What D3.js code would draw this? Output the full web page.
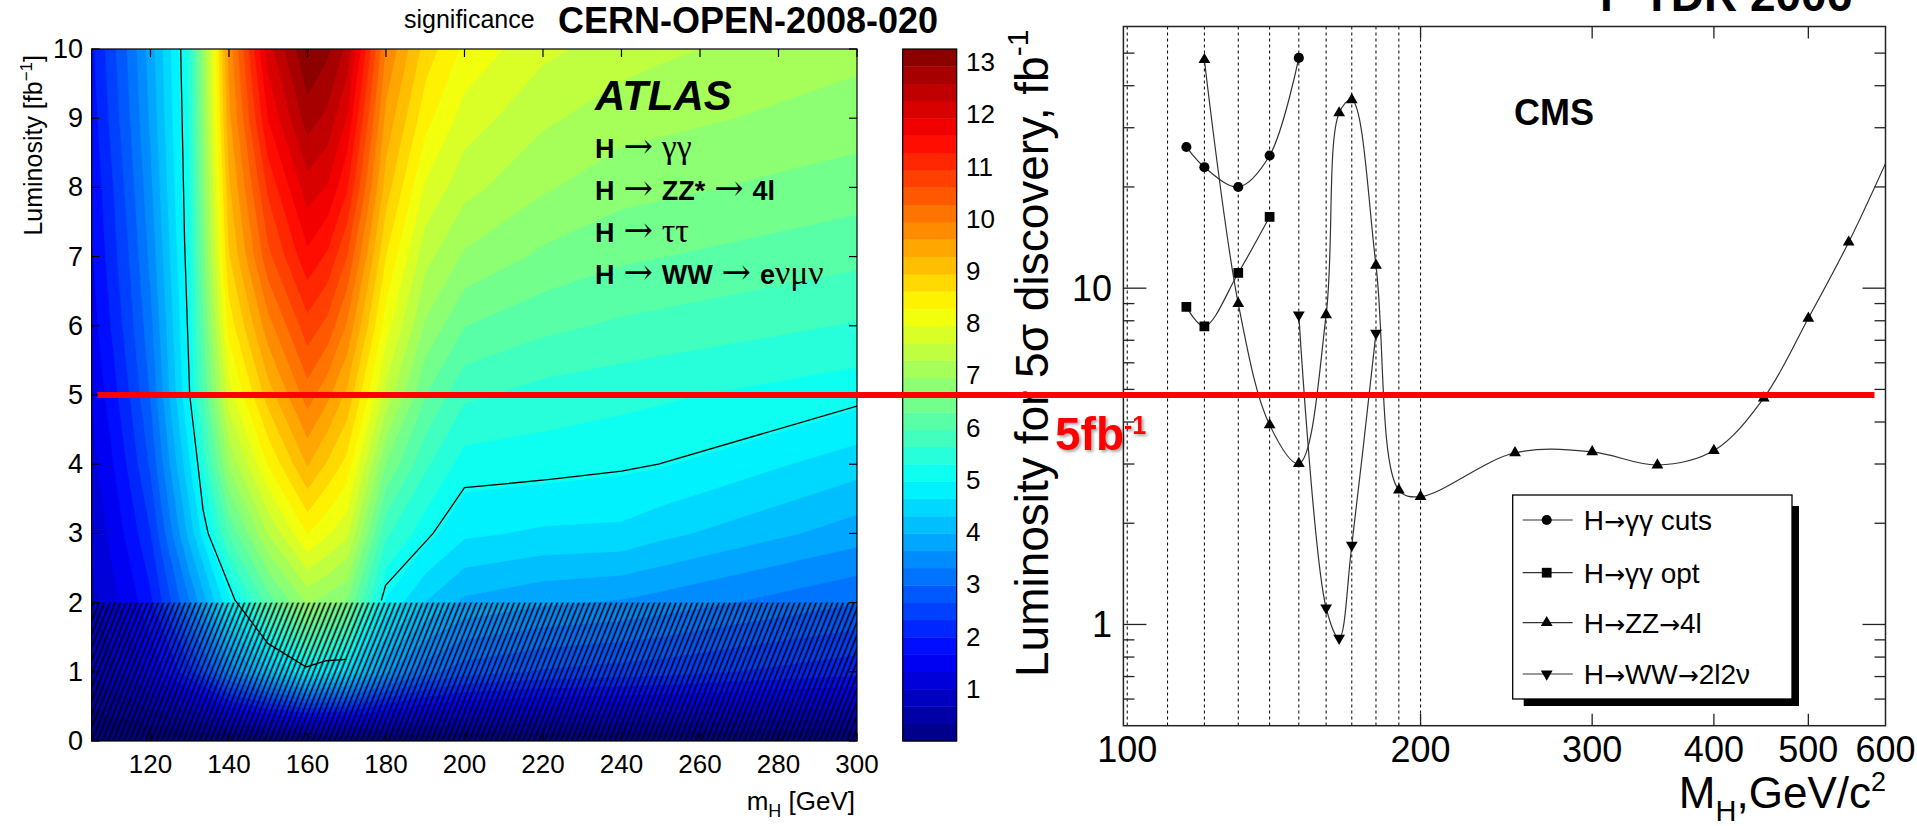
<!DOCTYPE html>
<html>
<head>
<meta charset="utf-8">
<script src="https://cdn.jsdelivr.net/npm/d3@7"></script>
<style>
  body { margin: 0; background: #fff; }
  svg { display: block; font-family: "Liberation Sans", Arial, Helvetica, sans-serif; }
</style>
</head>
<body>
<svg id="chart" width="1917" height="826"></svg>
<script>
// ---------------- data: ATLAS significance map ----------------
var massGrid = [105, 110, 115, 120, 130, 140, 150, 160, 165, 170, 180, 190, 200, 220, 240, 250, 300];
var lumiGrid = [0, 1, 2, 3, 4, 5, 6, 7, 8, 9, 10];
// one row per luminosity, one value per mass (significance)
var sigL0  = [0, 0, 0, 0, 0, 0, 0, 0, 0, 0, 0, 0, 0, 0, 0, 0, 0];
var sigL1  = [0.7, 0.9, 1.1, 1.4, 2.2, 3.4, 4.2, 4.85, 4.7, 4.6, 3.7, 3.1, 2.8, 2.6, 2.5, 2.45, 2.1];
var sigL2  = [0.9, 1.2, 1.5, 1.9, 3.3, 4.85, 6.1, 7.0, 6.8, 6.6, 4.9, 4.3, 3.9, 3.7, 3.6, 3.5, 3.0];
var sigL3  = [1.05, 1.4, 1.8, 2.3, 4.1, 6.0, 7.3, 8.3, 8.0, 7.7, 5.7, 5.1, 4.7, 4.58, 4.55, 4.4, 3.8];
var sigL4  = [1.2, 1.6, 2.1, 2.7, 4.6, 7.0, 8.3, 9.3, 8.9, 8.5, 6.6, 5.7, 5.15, 5.12, 5.05, 5.0, 4.45];
var sigL5  = [1.35, 1.8, 2.35, 3.0, 5.0, 7.8, 9.1, 10.1, 9.7, 9.2, 7.5, 6.3, 5.7, 5.5, 5.4, 5.35, 5.1];
var sigL6  = [1.5, 2.0, 2.55, 3.2, 5.1, 8.4, 9.8, 10.8, 10.5, 9.9, 8.1, 6.9, 6.3, 6.05, 5.9, 5.85, 5.6];
var sigL7  = [1.6, 2.15, 2.7, 3.4, 5.2, 8.9, 10.5, 11.5, 11.2, 10.6, 8.6, 7.4, 6.9, 6.55, 6.35, 6.3, 6.05];
var sigL8  = [1.7, 2.25, 2.85, 3.55, 5.3, 9.2, 11.0, 12.1, 11.9, 11.3, 9.1, 7.9, 7.4, 7.0, 6.75, 6.7, 6.45];
var sigL9  = [1.8, 2.4, 3.0, 3.7, 5.35, 9.5, 11.6, 12.75, 12.5, 11.9, 9.5, 8.4, 7.8, 7.35, 7.1, 7.05, 6.8];
var sigL10 = [1.9, 2.5, 3.1, 3.8, 5.4, 9.7, 12.1, 13.25, 13.0, 12.5, 9.9, 8.8, 8.2, 7.7, 7.45, 7.35, 7.05];
var sigRows = [sigL0, sigL1, sigL2, sigL3, sigL4, sigL5, sigL6, sigL7, sigL8, sigL9, sigL10];

// the 5 sigma contour line as drawn
var sig5MassA = [127.7, 128.7, 130.0, 133.4, 134.7, 141.5, 149.9, 159.7, 164.8, 169.9];
var sig5LumiA = [10.0, 7.2, 5.0, 3.34, 3.0, 2.04, 1.41, 1.07, 1.16, 1.18];
var sig5MassB = [178.8, 179.9, 192.0, 200.0, 221.8, 240.0, 249.4, 300.0];
var sig5LumiB = [2.03, 2.25, 3.0, 3.66, 3.78, 3.9, 4.0, 4.84];

var leftXTicks = [120, 140, 160, 180, 200, 220, 240, 260, 280, 300];
var leftYTicks = [0, 1, 2, 3, 4, 5, 6, 7, 8, 9, 10];
var cbTicks = [1, 2, 3, 4, 5, 6, 7, 8, 9, 10, 11, 12, 13];
var atlasLines = ["H \u2192 \u03b3\u03b3", "H \u2192 ZZ* \u2192 4l", "H \u2192 \u03c4\u03c4", "H \u2192 WW \u2192 e\u03bd\u03bc\u03bd"];

// ---------------- data: CMS 5 sigma discovery luminosity ----------------
var ggCutsMass = [115, 120, 130, 140, 150];
var ggCutsLumi = [26.3, 22.9, 20.0, 24.8, 48.4];
var ggOptMass = [115, 120, 130, 140];
var ggOptLumi = [8.8, 7.7, 11.1, 16.3];
var zzMass = [120, 130, 140, 150, 160, 165, 170, 180, 190, 200, 250, 300, 350, 400, 450, 500, 550, 600];
var zzLumi = [47.8, 9.0, 3.92, 3.01, 8.33, 33.2, 36.3, 11.7, 2.51, 2.40, 3.24, 3.26, 2.98, 3.29, 4.71, 8.14, 13.7, 23.5];
var wwMass = [150, 160, 165, 170, 180];
var wwLumi = [8.33, 1.12, 0.91, 1.72, 7.35];
var seriesNames = ["H\u2192\u03b3\u03b3 cuts", "H\u2192\u03b3\u03b3 opt", "H\u2192ZZ\u21924l", "H\u2192WW\u21922l2\u03bd"];
var dashedMasses = [100, 110, 120, 130, 140, 150, 160, 170, 180, 190, 200];
var rightXTicks = [100, 200, 300, 400, 500, 600];
var rightXInnerTicks = [200, 300, 400, 500];
var rightYMajor = [1, 10];
var rightYMinor = [0.6, 0.7, 0.8, 0.9, 2, 3, 4, 5, 6, 7, 8, 9, 20, 30, 40, 50];
var fiveFb = 5;

var svg = d3.select("#chart");
var defs = svg.append("defs");

// ---------------- scales ----------------
var xL = d3.scaleLinear().domain([105, 300]).range([91.6, 857]);
var yL = d3.scaleLinear().domain([0, 10]).range([741, 49]);
var zMax = 13.25, nLevels = 40, step = zMax / nLevels;
var zColor = d3.scaleLinear()
  .domain([0, 0.125, 0.375, 0.625, 0.875, 1].map(function(t) { return t * zMax; }))
  .range(["#000080", "#0000ff", "#00ffff", "#ffff00", "#ff0000", "#800000"])
  .clamp(true);
var cbY = d3.scaleLinear().domain([0, zMax]).range([741, 49]);
var xR = d3.scaleLog().domain([99.1, 600]).range([1123.4, 1885.5]);
var yR = d3.scaleLog().domain([0.5, 60]).range([725.7, 26.5]);

// ---------------- left: filled contours ----------------
defs.append("clipPath").attr("id", "clipL")
  .append("rect")
  .attr("x", xL.range()[0]).attr("y", yL.range()[1])
  .attr("width", xL.range()[1] - xL.range()[0]).attr("height", yL.range()[0] - yL.range()[1]);

var nx = massGrid.length, ny = lumiGrid.length;
var values = [];
sigRows.forEach(function(row) { row.forEach(function(v) { values.push(v); }); });
var thresholds = d3.range(nLevels).map(function(k) { return k * step; });
var contours = d3.contours().size([nx, ny]).thresholds(thresholds)(values);

var idxMass = d3.scaleLinear().domain(d3.range(nx)).range(massGrid);
var idxLumi = d3.scaleLinear().domain(d3.range(ny)).range(lumiGrid);
var gridPath = d3.geoPath(d3.geoTransform({
  point: function(gx, gy) {
    var i = Math.max(0, Math.min(nx - 1, gx - 0.5));
    var j = Math.max(0, Math.min(ny - 1, gy - 0.5));
    this.stream.point(xL(idxMass(i)), yL(idxLumi(j)));
  }
}));

var mapG = svg.append("g").attr("clip-path", "url(#clipL)");
mapG.selectAll("path.band")
  .data(contours)
  .enter().append("path")
  .attr("class", "band")
  .attr("d", gridPath)
  .attr("fill", function(d) { return zColor(d.value + step / 2); })
  .attr("stroke", function(d) { return zColor(d.value + step / 2); })
  .attr("stroke-width", 0.6);

// hatched low-luminosity region
defs.append("pattern").attr("id", "hatch")
  .attr("patternUnits", "userSpaceOnUse")
  .attr("width", 5).attr("height", 10)
  .attr("patternTransform", "rotate(22)")
  .append("line")
  .attr("x1", 2.5).attr("y1", 0).attr("x2", 2.5).attr("y2", 10)
  .attr("stroke", "#000").attr("stroke-width", 1.7);
mapG.append("rect")
  .attr("x", xL(105)).attr("y", yL(2))
  .attr("width", xL(300) - xL(105)).attr("height", yL(0) - yL(2))
  .attr("fill", "url(#hatch)");

// 5 sigma line
var sigLine = d3.line().x(function(d) { return xL(d[0]); }).y(function(d) { return yL(d[1]); });
[d3.zip(sig5MassA, sig5LumiA), d3.zip(sig5MassB, sig5LumiB)].forEach(function(pts) {
  mapG.append("path").attr("d", sigLine(pts))
    .attr("fill", "none").attr("stroke", "#000").attr("stroke-width", 1.3);
});

// frame + ticks
svg.append("rect")
  .attr("x", xL.range()[0]).attr("y", yL.range()[1])
  .attr("width", xL.range()[1] - xL.range()[0]).attr("height", yL.range()[0] - yL.range()[1])
  .attr("fill", "none").attr("stroke", "#000").attr("stroke-width", 1.2);

var tickG = svg.append("g").attr("stroke", "#000").attr("stroke-width", 1.2);
leftXTicks.forEach(function(m) {
  tickG.append("line").attr("x1", xL(m)).attr("x2", xL(m)).attr("y1", yL(10)).attr("y2", yL(10) + 8);
  tickG.append("line").attr("x1", xL(m)).attr("x2", xL(m)).attr("y1", yL(0)).attr("y2", yL(0) - 8);
});
leftYTicks.forEach(function(l) {
  tickG.append("line").attr("x1", xL(105)).attr("x2", xL(105) + 8).attr("y1", yL(l)).attr("y2", yL(l));
  tickG.append("line").attr("x1", xL(300)).attr("x2", xL(300) - 8).attr("y1", yL(l)).attr("y2", yL(l));
});

svg.append("g").selectAll("text").data(leftXTicks).enter().append("text")
  .attr("x", function(d) { return xL(d); }).attr("y", 773)
  .attr("text-anchor", "middle").attr("font-size", 26).text(function(d) { return d; });
svg.append("g").selectAll("text").data(leftYTicks).enter().append("text")
  .attr("x", 83).attr("y", function(d) { return yL(d) + 9; })
  .attr("text-anchor", "end").attr("font-size", 27).text(function(d) { return d; });

var mhLabel = svg.append("text").attr("x", 855).attr("y", 810)
  .attr("text-anchor", "end").attr("font-size", 26);
mhLabel.append("tspan").text("m");
mhLabel.append("tspan").attr("font-size", 18).attr("dy", 7).text("H");
mhLabel.append("tspan").attr("dy", -7).text(" [GeV]");

var lumiLabel = svg.append("text")
  .attr("transform", "translate(42,55) rotate(-90)")
  .attr("text-anchor", "end").attr("font-size", 25);
lumiLabel.append("tspan").text("Luminosity [fb");
lumiLabel.append("tspan").attr("font-size", 17).attr("dy", -10).text("\u22121");
lumiLabel.append("tspan").attr("dy", 10).text("]");

// colour bar
var cbX0 = 902.7, cbX1 = 956.7;
svg.append("g").selectAll("rect").data(thresholds).enter().append("rect")
  .attr("x", cbX0).attr("width", cbX1 - cbX0)
  .attr("y", function(t) { return cbY(Math.min(t + step, zMax)); })
  .attr("height", function(t) { return cbY(t) - cbY(Math.min(t + step, zMax)) + 0.4; })
  .attr("fill", function(t) { return zColor(t + step / 2); });
svg.append("rect").attr("x", cbX0).attr("y", cbY(zMax))
  .attr("width", cbX1 - cbX0).attr("height", cbY(0) - cbY(zMax))
  .attr("fill", "none").attr("stroke", "#000").attr("stroke-width", 1.2);
cbTicks.forEach(function(v) {
  tickG.append("line").attr("x1", cbX0).attr("x2", cbX0 + 7).attr("y1", cbY(v)).attr("y2", cbY(v));
  tickG.append("line").attr("x1", cbX1).attr("x2", cbX1 - 7).attr("y1", cbY(v)).attr("y2", cbY(v));
});
svg.append("g").selectAll("text").data(cbTicks).enter().append("text")
  .attr("x", 966).attr("y", function(d) { return cbY(d) + 9; })
  .attr("font-size", 26).text(function(d) { return d; });

// titles
svg.append("text").attr("x", 404).attr("y", 28).attr("font-size", 25).text("significance");
svg.append("text").attr("x", 558).attr("y", 33).attr("font-size", 36).attr("font-weight", "bold")
  .text("CERN-OPEN-2008-020");

svg.append("text").attr("x", 595).attr("y", 110).attr("font-size", 42)
  .attr("font-weight", "bold").attr("font-style", "italic").text("ATLAS");

var serif = "'Liberation Serif', 'Times New Roman', serif";
var greekRe = /([\u03b3\u03c4\u03bd\u03bc]+)/;
// arrows and greek letters in a light serif face, latin parts bold
function atlasToken(t, tok, first, size) {
  var started = false;
  tok.split(greekRe).forEach(function(part) {
    if (!part) return;
    var sp = t.append("tspan").attr("dx", (first || started) ? 0 : size * 0.33);
    if (part === "\u2192") {
      sp.attr("font-family", "'DejaVu Serif', serif").attr("font-size", size * 1.3).attr("font-weight", "normal");
    } else if (greekRe.test(part)) {
      sp.attr("font-family", serif).attr("font-size", size * 1.25).attr("font-weight", "normal");
    } else {
      sp.attr("font-weight", "bold").attr("font-size", size);
    }
    sp.text(part);
    started = true;
  });
}
atlasLines.forEach(function(line, i) {
  var t = svg.append("text").attr("x", 595).attr("y", 158 + i * 42);
  line.split(" ").forEach(function(tok, k) { atlasToken(t, tok, k === 0, 27); });
});

// ---------------- right: CMS plot ----------------
defs.append("clipPath").attr("id", "clipR")
  .append("rect")
  .attr("x", xR.range()[0]).attr("y", yR.range()[1])
  .attr("width", xR.range()[1] - xR.range()[0]).attr("height", yR.range()[0] - yR.range()[1]);

var rG = svg.append("g");
rG.selectAll("line.dash").data(dashedMasses).enter().append("line")
  .attr("class", "dash")
  .attr("x1", function(d) { return xR(d); }).attr("x2", function(d) { return xR(d); })
  .attr("y1", yR.range()[1]).attr("y2", yR.range()[0])
  .attr("stroke", "#000").attr("stroke-width", 1).attr("stroke-dasharray", "3,3");

var rTicks = rG.append("g").attr("stroke", "#222").attr("stroke-width", 1.3);
var xr0 = xR.range()[0], xr1 = xR.range()[1], yr0 = yR.range()[0], yr1 = yR.range()[1];
rightYMajor.forEach(function(v) {
  rTicks.append("line").attr("x1", xr0).attr("x2", xr0 + 23).attr("y1", yR(v)).attr("y2", yR(v));
  rTicks.append("line").attr("x1", xr1).attr("x2", xr1 - 23).attr("y1", yR(v)).attr("y2", yR(v));
});
rightYMinor.forEach(function(v) {
  rTicks.append("line").attr("x1", xr0).attr("x2", xr0 + 11).attr("y1", yR(v)).attr("y2", yR(v));
  rTicks.append("line").attr("x1", xr1).attr("x2", xr1 - 11).attr("y1", yR(v)).attr("y2", yR(v));
});
rightXInnerTicks.forEach(function(m) {
  rTicks.append("line").attr("x1", xR(m)).attr("x2", xR(m)).attr("y1", yr1).attr("y2", yr1 + 12);
  rTicks.append("line").attr("x1", xR(m)).attr("x2", xR(m)).attr("y1", yr0).attr("y2", yr0 - 12);
});
rG.append("rect").attr("x", xr0).attr("y", yr1).attr("width", xr1 - xr0).attr("height", yr0 - yr1)
  .attr("fill", "none").attr("stroke", "#222").attr("stroke-width", 1.5);

var curve = d3.line()
  .x(function(d) { return xR(d[0]); }).y(function(d) { return yR(d[1]); })
  .curve(d3.curveCatmullRom.alpha(0.5));
var series = [
  { mass: ggCutsMass, lumi: ggCutsLumi, sym: d3.symbolCircle, size: 80, rot: 0 },
  { mass: ggOptMass, lumi: ggOptLumi, sym: d3.symbolSquare, size: 95, rot: 0 },
  { mass: zzMass, lumi: zzLumi, sym: d3.symbolTriangle, size: 60, rot: 0 },
  { mass: wwMass, lumi: wwLumi, sym: d3.symbolTriangle, size: 60, rot: 180 }
];
var plotR = rG.append("g").attr("clip-path", "url(#clipR)");
series.forEach(function(s) {
  var pts = d3.zip(s.mass, s.lumi);
  plotR.append("path").attr("d", curve(pts))
    .attr("fill", "none").attr("stroke", "#333").attr("stroke-width", 1.2);
  plotR.selectAll(null).data(pts.filter(function(p) { return p[0] < 600; })).enter().append("path")
    .attr("d", d3.symbol().type(s.sym).size(s.size))
    .attr("transform", function(p) { return "translate(" + xR(p[0]) + "," + yR(p[1]) + ") rotate(" + s.rot + ")"; })
    .attr("fill", "#000");
});

// axis labels
rG.append("g").selectAll("text").data(rightXTicks).enter().append("text")
  .attr("x", function(d) { return xR(d); }).attr("y", 762)
  .attr("text-anchor", "middle").attr("font-size", 36).text(function(d) { return d; });
rG.append("g").selectAll("text").data(rightYMajor).enter().append("text")
  .attr("x", 1112).attr("y", function(d) { return yR(d) + 13; })
  .attr("text-anchor", "end").attr("font-size", 36).text(function(d) { return d; });

var mLabel = rG.append("text").attr("x", 1886).attr("y", 808)
  .attr("text-anchor", "end").attr("font-size", 44);
mLabel.append("tspan").text("M");
mLabel.append("tspan").attr("font-size", 29).attr("dy", 13).text("H");
mLabel.append("tspan").attr("dy", -13).text(",GeV/c");
mLabel.append("tspan").attr("font-size", 27).attr("dy", -17).text("2");

var yLabelR = rG.append("text")
  .attr("transform", "translate(1048,677) rotate(-90)")
  .attr("font-size", 46);
yLabelR.append("tspan").text("Luminosity for 5\u03c3 discovery, fb");
yLabelR.append("tspan").attr("font-size", 30).attr("dy", -20).text("-1");

rG.append("text").attr("x", 1514).attr("y", 125).attr("font-size", 36).attr("font-weight", "bold").text("CMS");
rG.append("text").attr("x", 1600).attr("y", 11).attr("font-size", 46).attr("font-weight", "bold").text("P TDR 2006");

// legend
var legX = 1512.7, legY = 495, legW = 279.3, legH = 204;
rG.append("rect").attr("x", legX + 11).attr("y", legY + 11).attr("width", legW - 4).attr("height", legH - 4)
  .attr("fill", "#000");
rG.append("rect").attr("x", legX).attr("y", legY).attr("width", legW).attr("height", legH)
  .attr("fill", "#fff").attr("stroke", "#000").attr("stroke-width", 1.3);
var legRows = [520, 572.7, 622.7, 674];
series.forEach(function(s, i) {
  var y = legRows[i];
  rG.append("line").attr("x1", legX + 10).attr("x2", legX + 60).attr("y1", y).attr("y2", y)
    .attr("stroke", "#333").attr("stroke-width", 1.2);
  rG.append("path").attr("d", d3.symbol().type(s.sym).size(s.size))
    .attr("transform", "translate(" + (legX + 34) + "," + y + ") rotate(" + s.rot + ")")
    .attr("fill", "#000");
  var t = rG.append("text").attr("x", legX + 71).attr("y", y + 10).attr("font-size", 28);
  seriesNames[i].split(/(\u2192)/).forEach(function(part) {
    if (!part) return;
    var sp = t.append("tspan").text(part);
    if (part === "\u2192") sp.attr("font-family", "'DejaVu Sans', sans-serif").attr("font-size", 25);
  });
});

// ---------------- 5 fb-1 annotation ----------------
var sh = defs.append("filter").attr("id", "shadow").attr("x", "-10%").attr("y", "-10%").attr("width", "130%").attr("height", "140%");
sh.append("feDropShadow").attr("dx", 2).attr("dy", 2).attr("stdDeviation", 1.5)
  .attr("flood-color", "#000").attr("flood-opacity", 0.35);

svg.append("line")
  .attr("x1", xL.range()[0] + 6).attr("x2", xR.range()[1] - 11)
  .attr("y1", yL(fiveFb)).attr("y2", yL(fiveFb))
  .attr("stroke", "#ff0000").attr("stroke-width", 6);

var fbText = svg.append("text").attr("x", 1055).attr("y", 450)
  .attr("font-size", 46).attr("font-weight", "bold").attr("fill", "#ff0000")
  .attr("filter", "url(#shadow)");
fbText.append("tspan").text(fiveFb + "fb");
fbText.append("tspan").attr("font-size", 25).attr("dy", -16).text("-1");
</script>
</body>
</html>
